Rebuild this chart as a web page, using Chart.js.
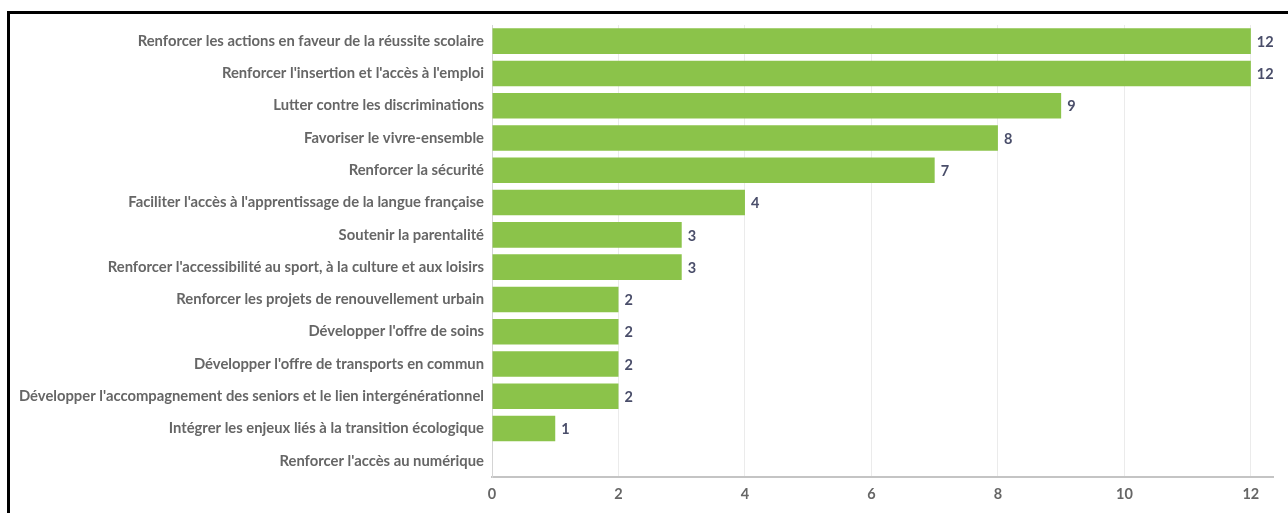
<!DOCTYPE html>
<html>
<head>
<meta charset="utf-8">
<script src="https://cdn.jsdelivr.net/npm/chart.js@4/dist/chart.umd.min.js"></script>
<style>
  html, body { margin: 0; padding: 0; background: #fff; }
  #wrap { position: relative; width: 1288px; height: 513px; overflow: hidden; }
  #frame { position: absolute; left: 7px; top: 11px; width: 1290px; height: 520px;
           border-left: 3px solid #000; border-top: 3px solid #000; pointer-events: none; }
  canvas { position: absolute; left: 0; top: 0; }
</style>
</head>
<body>
<div id="wrap">
  <div id="frame"></div>
  <canvas id="myChart" width="1288" height="513"></canvas>
</div>
<script>
const categories = [
  'Renforcer les actions en faveur de la réussite scolaire',
  "Renforcer l'insertion et l'accès à l'emploi",
  'Lutter contre les discriminations',
  'Favoriser le vivre-ensemble',
  'Renforcer la sécurité',
  "Faciliter l'accès à l'apprentissage de la langue française",
  'Soutenir la parentalité',
  "Renforcer l'accessibilité au sport, à la culture et aux loisirs",
  'Renforcer les projets de renouvellement urbain',
  "Développer l'offre de soins",
  "Développer l'offre de transports en commun",
  "Développer l'accompagnement des seniors et le lien intergénérationnel",
  'Intégrer les enjeux liés à la transition écologique',
  "Renforcer l'accès au numérique"
];
const counts = [12, 12, 9, 8, 7, 4, 3, 3, 2, 2, 2, 2, 1, 0];
const xTicks = [0, 2, 4, 6, 8, 10, 12];

// writes the value just past the end of each bar
const valueLabels = {
  id: 'valueLabels',
  afterDatasetsDraw(chart) {
    const ctx = chart.ctx;
    const meta = chart.getDatasetMeta(0);
    ctx.save();
    ctx.font = 'bold 14.5px Lato';
    ctx.fillStyle = '#4a4e6a';
    ctx.textBaseline = 'middle';
    ctx.textAlign = 'left';
    meta.data.forEach((bar, i) => {
      if (counts[i] > 0) ctx.fillText(String(counts[i]), bar.x + 6, bar.y + 1);
    });
    ctx.restore();
  }
};

new Chart(document.getElementById('myChart'), {
  type: 'bar',
  data: {
    labels: categories,
    datasets: [{
      data: counts,
      backgroundColor: '#8bc34a',
      borderWidth: 0,
      barPercentage: 0.88,
      categoryPercentage: 0.9
    }]
  },
  plugins: [valueLabels],
  options: {
    indexAxis: 'y',
    responsive: false,
    animation: false,
    layout: { padding: { top: 25, right: 15, bottom: 0, left: 0 } },
    plugins: {
      legend: { display: false },
      tooltip: { enabled: false }
    },
    scales: {
      x: {
        min: 0,
        max: 12.35,
        afterBuildTicks: (scale) => {
          scale.ticks = xTicks.map(v => ({ value: v }));
        },
        afterFit: (scale) => { scale.height = 36; },
        grid: { color: '#ebebeb', lineWidth: 1, drawTicks: false },
        border: { color: '#c4c4c4', width: 2 },
        ticks: {
          padding: 9,
          color: '#666',
          font: { family: 'Lato', weight: 'bold', size: 14.5 }
        }
      },
      y: {
        afterFit: (scale) => { scale.width = 492; },
        grid: { display: false, drawTicks: false },
        border: { color: '#d4d4d4', width: 1 },
        ticks: {
          padding: 8,
          color: '#666',
          autoSkip: false,
          font: { family: 'Lato', weight: 'bold', size: 14.8 }
        }
      }
    }
  }
});
</script>
</body>
</html>
